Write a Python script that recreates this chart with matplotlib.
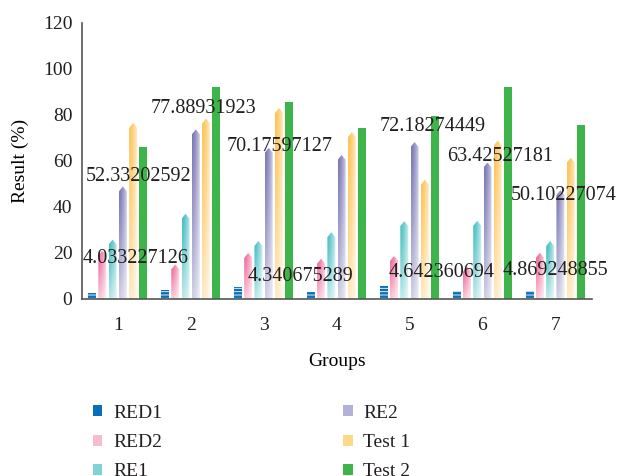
"""Grouped bar chart of results per group, pencil-style gradient bars."""

import matplotlib
matplotlib.use('Agg')
import matplotlib.pyplot as plt
import matplotlib.colors
import matplotlib.patches
import numpy as np

groups = ['1', '2', '3', '4', '5', '6', '7']
series_names = ['RED1', 'RED2', 'RE1', 'RE2', 'Test 1', 'Test 2']

red1 = [2.5, 3.7, 5.3, 3.0, 5.6, 3.6, 3.6]
red2 = [21.0, 15.0, 20.0, 17.5, 18.7, 14.0, 20.1]
re1 = [25.8, 37.0, 25.2, 29.0, 33.8, 34.0, 25.2]
re2 = [48.9, 73.7, 65.7, 62.6, 68.2, 59.3, 47.3]
test1 = [76.5, 78.4, 83.0, 72.5, 51.8, 68.9, 61.4]
test2 = [66.2, 92.0, 85.6, 74.4, 79.7, 92.0, 75.8]

label_texts = ['52.33202592', '4.033227126', '77.88931923', '70.17597127',
               '4.340675289', '72.18274449', '4.642360694', '63.42527181',
               '50.10227074', '4.869248855']
label_x = [1.29, 1.25, 2.18, 3.22, 3.51, 5.32, 5.44, 6.24, 7.12, 7.0]
label_y = [53.2, 17.7, 82.7, 66.2, 9.6, 74.8, 11.5, 61.8, 44.9, 12.5]

bar_colors = ['#0a6fba', '#ee5a8f', '#33b8bc', '#6e6bb0', '#fdbe45', '#3db54a']
legend_colors = ['#0a6fba', '#f8bbd0', '#7fd3d3', '#b3b1d8', '#ffd98a', '#3db54a']

TEXT = '#231f20'
plt.rcParams['font.family'] = ['Liberation Serif', 'DejaVu Serif']
plt.rcParams['font.size'] = 14
plt.rcParams['text.color'] = TEXT
plt.rcParams['hatch.linewidth'] = 0.6

fig = plt.figure(figsize=(6.19, 4.76), dpi=100)
ax = fig.add_axes((0.1325, 0.372, 0.8235, 0.58))


def pencil_bar(ax, x, h, w, color, tip=2.2):
    """Bar with a pointed top, shaded from saturated to pale."""
    tip = min(tip, h * 0.5)
    verts = [(x - w / 2, 0), (x - w / 2, h - tip), (x, h),
             (x + w / 2, h - tip), (x + w / 2, 0)]
    poly = matplotlib.patches.Polygon(verts, closed=True, fc='none',
                                      ec='none')
    ax.add_patch(poly)
    sx, sy = np.meshgrid(np.linspace(0, 1, 24), np.linspace(0, 1, 64))
    wx = 0.08 + 0.7 * sx ** 1.4
    wy = 0.65 * (1 - sy) ** 1.3
    white = 1 - (1 - wx) * (1 - wy)
    base = np.array(matplotlib.colors.to_rgb(color))
    rgb = base[None, None, :] * (1 - white[..., None]) + white[..., None]
    im = ax.imshow(rgb, extent=(x - w / 2, x + w / 2, 0, h), origin='lower',
                   aspect='auto', interpolation='bilinear', zorder=2)
    im.set_clip_path(poly)


series = [red1, red2, re1, re2, test1, test2]
xs = np.arange(1, len(groups) + 1)
step, width = 0.141, 0.11

for k, (values, color) in enumerate(zip(series, bar_colors)):
    pos = xs + (k - 2.5) * step
    if k == 0:
        ax.bar(pos, values, width, color=color, edgecolor='white',
               linewidth=0, hatch='-----', zorder=2)
    elif k == 5:
        ax.bar(pos, values, width, color=color, linewidth=0, zorder=2)
    else:
        for p, v in zip(pos, values):
            pencil_bar(ax, p, v, width, color)

for t, x, y in zip(label_texts, label_x, label_y):
    ax.text(x, y, t, ha='center', va='center', fontsize=14.5, color=TEXT,
            zorder=5)

ax.set_xlim(0.51, 7.5)
ax.set_ylim(0, 120)
ax.set_xticks(xs, groups)
ax.set_yticks(np.arange(0, 121, 20))
ax.tick_params(length=0, labelsize=14, colors=TEXT)
ax.tick_params(axis='x', pad=13)
ax.tick_params(axis='y', pad=7)
for side in ('top', 'right'):
    ax.spines[side].set_visible(False)
for side in ('left', 'bottom'):
    ax.spines[side].set_color('#555555')
    ax.spines[side].set_linewidth(1.2)
ax.set_xlabel('Groups', fontsize=14, labelpad=14)
ax.set_ylabel('Result (%)', fontsize=14, labelpad=10)

handles = [matplotlib.patches.Patch(fc=c, ec='none') for c in legend_colors]
fig.legend(handles, series_names, loc='upper left',
           bbox_to_anchor=(83 / 619, 1 - 395 / 476), ncol=2, frameon=False,
           borderpad=0, handlelength=0.5, handleheight=0.5,
           handletextpad=0.55, labelspacing=0.63, columnspacing=9.3,
           fontsize=14)

fig.savefig('out.png', dpi=100)
